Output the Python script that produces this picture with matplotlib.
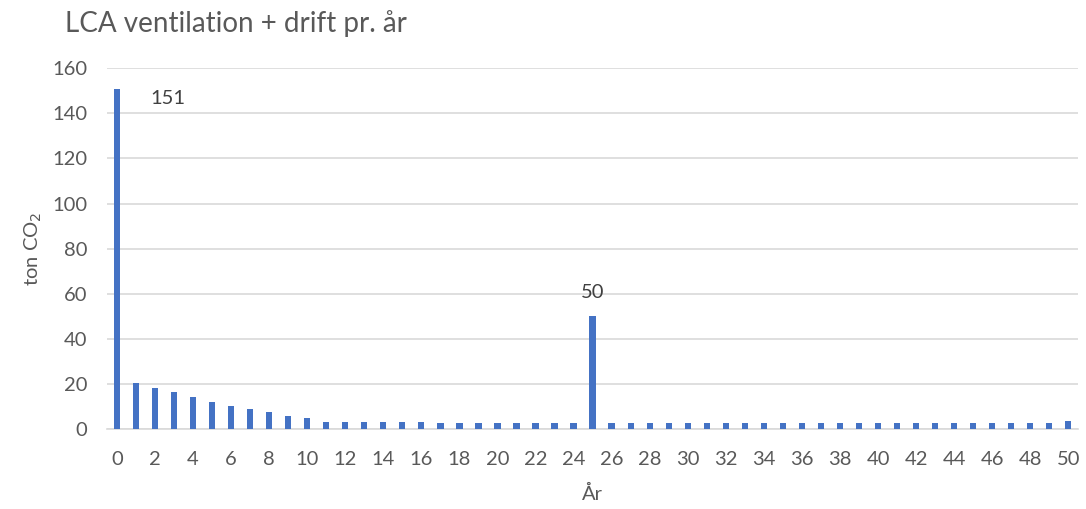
import numpy as np
import matplotlib.pyplot as plt

plt.rcParams['font.family'] = ['Lato', 'DejaVu Sans']

# Data
aar = list(range(0, 51))
ton_co2 = [151, 20.5, 18.3, 16.5, 14.3, 12.2, 10.2, 8.9, 7.5, 6.0,
           4.7, 3.2, 3.2, 3.2, 3.2, 3.1, 3.0, 2.9, 2.9, 2.9,
           2.9, 2.9, 2.9, 2.9, 2.9, 50, 2.9, 2.9, 2.9, 2.9,
           2.9, 2.9, 2.9, 2.9, 2.9, 2.9, 2.9, 2.9, 2.9, 2.9,
           2.9, 2.9, 2.9, 2.9, 2.9, 2.9, 2.9, 2.9, 2.9, 2.9, 3.6]
xtick_labels = [str(v) for v in range(0, 51, 2)]

tekst = '#595959'
blaa = '#4472C4'
fs = 14.5

fig = plt.figure(figsize=(10.86, 5.09), dpi=100)
ax = fig.add_axes([0.0985, 0.157, 0.894, 0.709])

barer = ax.bar(aar, ton_co2, width=0.33, color=blaa, zorder=3)

ax.set_xlim(-0.52, 50.5)
ax.set_ylim(0, 160)
ax.set_yticks(range(0, 161, 20))
ax.set_xticks(range(0, 51, 2))
ax.set_xticklabels(xtick_labels)
ax.tick_params(axis='both', length=0, colors=tekst, labelsize=fs)
ax.tick_params(axis='x', pad=16)
ax.tick_params(axis='y', pad=14)
ax.yaxis.grid(True, color='#D9D9D9', linewidth=1.2, zorder=0)

for side in ['top', 'right', 'left']:
    ax.spines[side].set_visible(False)
ax.spines['bottom'].set_color('#D9D9D9')
ax.spines['bottom'].set_linewidth(1.2)

# data labels
ax.annotate('151', xy=(aar[0], ton_co2[0]), xytext=(37, -7), textcoords='offset points',
            ha='center', va='center', fontsize=fs, color='#404040')
ax.annotate('50', xy=(aar[25], ton_co2[25]), xytext=(0, 17), textcoords='offset points',
            ha='center', va='center', fontsize=fs, color='#404040')

ax.set_xlabel('År', fontsize=fs, color=tekst, labelpad=12)
ax.set_ylabel('ton CO$_2$', fontsize=fs, color=tekst, labelpad=6)

fig.text(0.06, 0.953, 'LCA ventilation + drift pr. år', fontsize=20, color=tekst,
         ha='left', va='center')

plt.savefig('out.png', dpi=100)
plt.close(fig)
